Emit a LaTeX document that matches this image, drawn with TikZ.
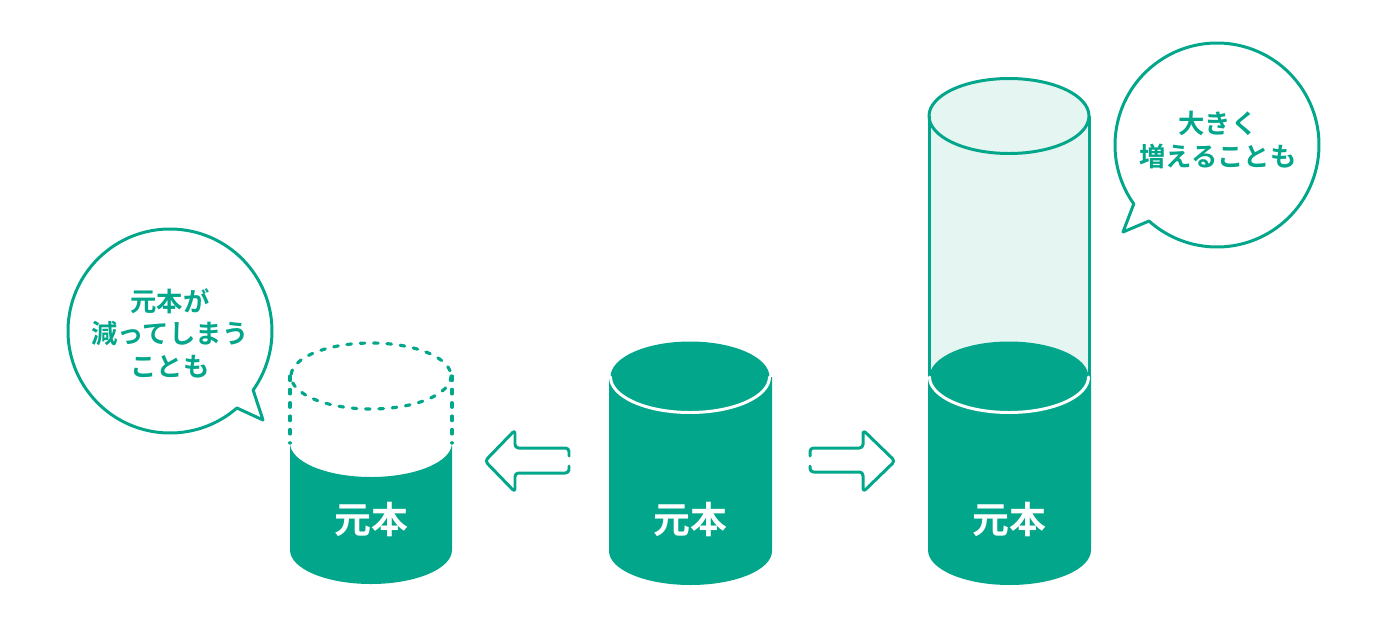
\documentclass[tikz,border=0pt]{standalone}
\usepackage{fontspec}
\usepackage{tikz}
\newfontfamily\jpfont{Noto Sans CJK JP Bold}
\definecolor{mint}{HTML}{02A68A}
\definecolor{mintlight}{HTML}{E5F5F2}

\begin{document}
\begin{tikzpicture}[x=0.02cm, y=-0.02cm,
  every node/.style={font=\jpfont, inner sep=0pt},
  label/.style={text=white, font=\jpfont\fontsize{21}{24}\selectfont},
  talk/.style={text=mint, align=center, font=\jpfont\fontsize{15}{18.5}\selectfont},
  outline/.style={draw=mint, line width=1.7pt},
  bubble/.style={outline, fill=white, line join=round},
  shaft/.style={outline, line join=round, line cap=round, rounded corners=2pt},
  rim/.style={draw=white, line width=1.7pt, line cap=round},
  dots/.style={draw=mint, line width=1.8pt, line cap=round, dash pattern=on 2.6pt off 5pt}]
  \useasboundingbox (0,0) rectangle (1400,629);
  % centres of the three cylinders
  \coordinate (lc) at (371,376);
  \coordinate (mc) at (690,377);
  \coordinate (rc) at (1009,377);
  \coordinate (rt) at (1009,116);
  % left cylinder (shrunk)
  \fill [mint] (290,443) -- (290,550) arc (180:0:81 and 34) -- (452,443) arc (0:180:81 and 34) -- cycle;
  \draw [dots] (lc) ellipse (80 and 33);
  \draw [dots] (290,376) -- (290,443);
  \draw [dots] (452,376) -- (452,443);
  \node (lb) [label] at (371,519) {元本};
  % middle cylinder
  \fill [mint] (609,377) -- (609,551) arc (180:0:81.5 and 34) -- (772,377) -- cycle;
  \fill [mint] (mc) ellipse (79.5 and 35.5);
  \draw [rim] (769.5,377) arc (0:180:79.5 and 35.5);
  \node (mb) [label] at (690,519) {元本};
  % right cylinder (grown)
  \fill [mintlight] (929,116) rectangle (1089,377);
  \draw [outline, fill=mintlight] (rt) ellipse (80 and 37.5);
  \draw [outline] (929,116) -- (929,377);
  \draw [outline] (1089,116) -- (1089,377);
  \fill [mint] (928,377) -- (928,550) arc (180:0:81.5 and 35) -- (1091,377) -- cycle;
  \fill [mint] (rc) ellipse (79.5 and 35.5);
  \draw [rim] (1088.5,377) arc (0:180:79.5 and 35.5);
  \node (rb) [label] at (1009,519) {元本};
  % arrows
  \draw [shaft] (569,456) -- (569,448) -- (515,448) -- (515,430) -- (485,461) -- (515,492) -- (515,473) -- (569,473) -- (569,466);
  \draw [shaft] (810,456) -- (810,448) -- (863,448) -- (863,430) -- (895,461) -- (863,492) -- (863,472) -- (810,472) -- (810,466);
  % speech bubbles
  \coordinate (lt) at (170,331);
  \coordinate (rtb) at (1217,145);
  \draw [bubble] (lt) ++(49:102) arc [start angle=49, end angle=395.4, radius=102] -- (263,420) -- cycle;
  \draw [bubble] (rtb) ++(144.7:102) arc [start angle=144.7, end angle=491.8, radius=102] -- (1123,232) -- cycle;
  \node (lq) [talk] at (170,333) {元本が\\減ってしまう\\ことも};
  \node (rq) [talk] at (1218,140) {大きく\\増えることも};
\end{tikzpicture}
\end{document}
